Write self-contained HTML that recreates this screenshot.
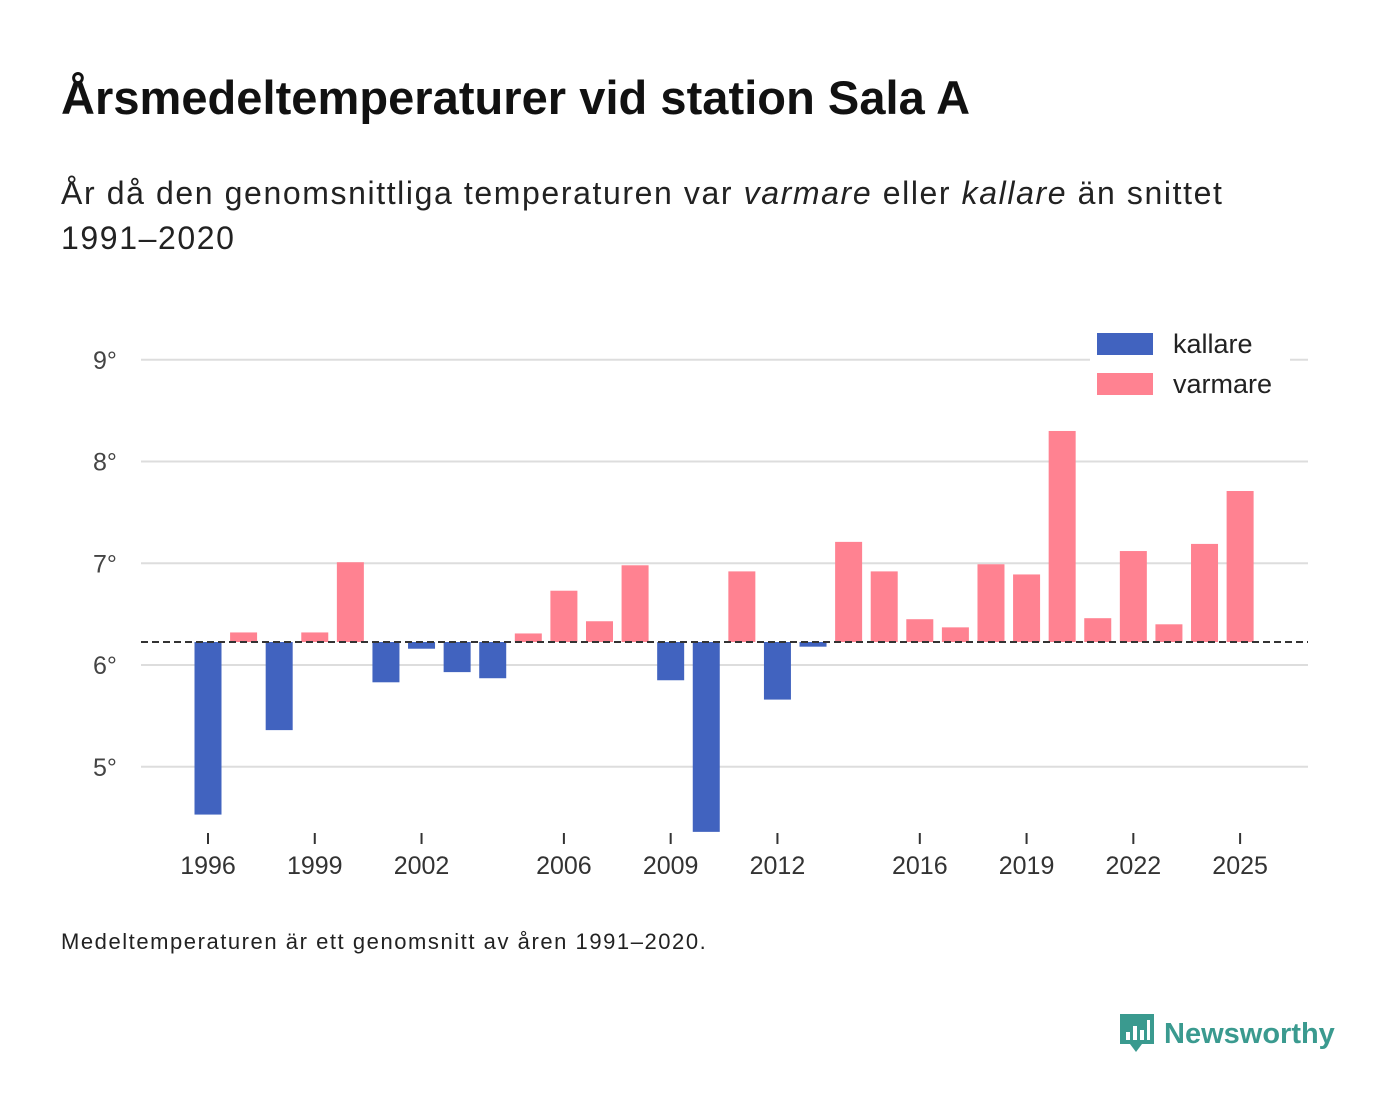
<!DOCTYPE html>
<html><head><meta charset="utf-8"><style>
body{margin:0;background:#fff;font-family:"Liberation Sans","DejaVu Sans",sans-serif;}
#wrap{position:relative;width:1400px;height:1116px;overflow:hidden;}
h1{position:absolute;left:61px;top:70px;margin:0;font-size:47px;font-weight:bold;color:#111;letter-spacing:0.05px;white-space:nowrap;}
.sub{position:absolute;left:61px;top:171px;font-size:32px;color:#222;line-height:45px;width:1200px;letter-spacing:1.6px;}
.note{position:absolute;left:61px;top:929px;font-size:22px;color:#222;letter-spacing:1.55px;}
.logo{position:absolute;left:1118px;top:1012px;display:flex;align-items:center;gap:8px;color:#3a9a8f;font-size:29px;font-weight:bold;}
</style></head><body>
<div id="wrap">
<h1>Årsmedeltemperaturer vid station Sala A</h1>
<div class="sub">År då den genomsnittliga temperaturen var <i>varmare</i> eller <i>kallare</i> än snittet<br>1991–2020</div>
<svg id="chart" width="1400" height="1116" style="position:absolute;left:0;top:0"></svg>
<div class="note">Medeltemperaturen är ett genomsnitt av åren 1991–2020.</div>
<div class="logo">
<svg width="38" height="44" viewBox="0 0 38 44"><path d="M2 2h34v30H24l-6 8-6-8H2z" fill="#3a9a8f"/><rect x="8" y="20" width="4" height="8" fill="#fff"/><rect x="15" y="14" width="4" height="14" fill="#fff"/><rect x="22" y="18" width="4" height="10" fill="#fff"/><rect x="29" y="8" width="3" height="20" fill="#fff"/></svg>
<span>Newsworthy</span></div>
</div>
<script>
const years=[1996,1997,1998,1999,2000,2001,2002,2003,2004,2005,2006,2007,2008,2009,2010,2011,2012,2013,2014,2015,2016,2017,2018,2019,2020,2021,2022,2023,2024,2025];
const temps=[4.53,6.32,5.36,6.32,7.01,5.83,6.16,5.93,5.87,6.31,6.73,6.43,6.98,5.85,4.36,6.92,5.66,6.18,7.21,6.92,6.45,6.37,6.99,6.89,8.30,6.46,7.12,6.40,7.19,7.71];
const baseline=6.226;
const yTicks=[5,6,7,8,9];
const xTicks=[1996,1999,2002,2006,2009,2012,2016,2019,2022,2025];
const NS="http://www.w3.org/2000/svg";
const svg=document.getElementById('chart');
const y=v=>665-(v-6)*101.75;
const x=yr=>208+(yr-1996)*35.59;
function mk(t,a){const e=document.createElementNS(NS,t);for(const k in a)e.setAttribute(k,a[k]);svg.appendChild(e);return e;}
yTicks.forEach(v=>{
 const l=mk('line',{x1:141,x2:1308,y1:y(v),y2:y(v),stroke:'#ddd','stroke-width':2});
 
 
 const t=mk('text',{x:93,y:y(v)+9,'font-size':25,fill:'#444'});t.textContent=v+'°';
 
 
});
years.forEach((yr,i)=>{
 const v=temps[i];const top=Math.min(y(v),y(baseline));const h=Math.abs(y(v)-y(baseline));
 const r=mk('rect',{x:x(yr)-13.5,y:top,width:27,height:h,fill:v<baseline?'#4163bf':'#ff8291'});
 
 
});
const bl=mk('line',{x1:141,x2:1308,y1:y(baseline),y2:y(baseline),stroke:'#333','stroke-width':2,'stroke-dasharray':'7,4'});


xTicks.forEach(yr=>{
 const l=mk('line',{x1:x(yr),x2:x(yr),y1:833,y2:844,stroke:'#333','stroke-width':2});
 
 
 const t=mk('text',{x:x(yr),y:874,'font-size':25,fill:'#333','text-anchor':'middle'});t.textContent=yr;
 
 
});
mk('rect',{x:1090,y:325,width:200,height:80,fill:'#fff'});
[['kallare','#4163bf',333],['varmare','#ff8291',373]].forEach(([n,c,yy])=>{
 const r=mk('rect',{x:1097,y:yy,width:56,height:22,fill:c});
 
 
 const t=mk('text',{x:1173,y:yy+20,'font-size':27,fill:'#222'});t.textContent=n;
 
 
});
</script>
</body></html>
